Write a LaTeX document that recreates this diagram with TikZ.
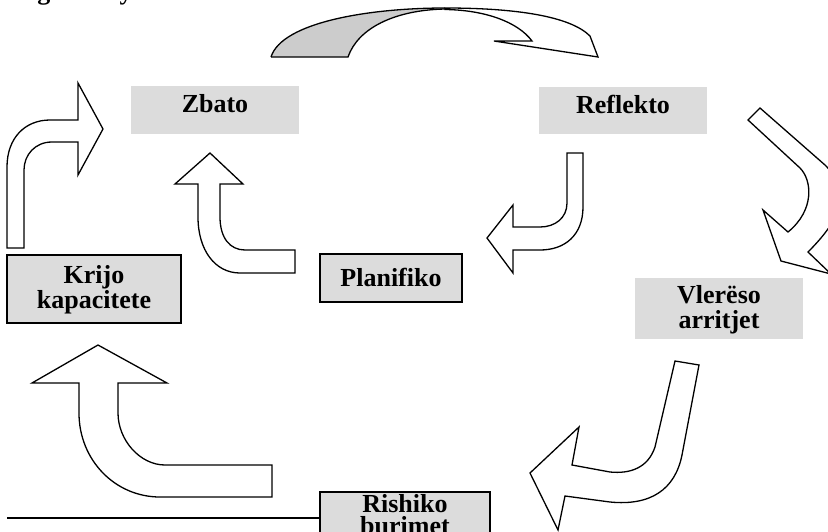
\documentclass[tikz,border=0pt]{standalone}
\usepackage{fontspec}
\setmainfont{Liberation Serif}
\begin{document}
\begin{tikzpicture}[x=1pt,y=-1pt,
  lbl/.style={font=\fontsize{26}{25}\selectfont\bfseries, align=center, inner sep=0pt},
  gplain/.style={fill=boxgray, draw=none, inner sep=0pt},
  gframed/.style={fill=boxgray, draw=black, line width=2pt, inner sep=0pt},
  blockarrow/.style={fill=white, draw=black, line width=1.3pt, line join=miter},
  ]
\definecolor{boxgray}{HTML}{DCDCDC}
\definecolor{backgray}{HTML}{CCCCCC}
\useasboundingbox (0,0) rectangle (828,531);
\clip (0,0) rectangle (828,531);

% clipped heading glyphs at the top edge
\node[lbl, anchor=base] (hg) at (44,-0.5) {g};
\node[lbl, anchor=base] (hy) at (126,-0.5) {y};

% footnote rule
\draw[line width=2pt] (7,518) -- (390,518);

% boxes
\node[gplain, minimum width=168pt, minimum height=48pt] (zbato) at (215,110) {};
\node[lbl] (zbatoT) at (215,104) {Zbato};
\node[gplain, minimum width=168pt, minimum height=47pt] (reflekto) at (623,110) {};
\node[lbl] (reflektoT) at (623,104) {Reflekto};
\node[gplain, minimum width=168pt, minimum height=61pt] (vlereso) at (719,308.5) {};
\node[lbl] (vleresoT) at (719,310) {Vlerëso\\arritjet};
\node[gframed, minimum width=174pt, minimum height=68pt] (krijo) at (94,289) {};
\node[lbl] (krijoT) at (94,290) {Krijo\\kapacitete};
\node[gframed, minimum width=142pt, minimum height=48pt] (planifiko) at (391,278) {};
\node[lbl] (planifikoT) at (391,277) {Planifiko};
\node[gframed, minimum width=170pt, minimum height=50pt, anchor=north] (rishiko) at (405,491) {};
\node[lbl, font=\fontsize{26}{22}\selectfont\bfseries] (rishikoT) at (405,515) {Rishiko\\burimet};

% top curved arrow: shaded back part
\fill[backgray] (271,57) .. controls (282,22) and (370,8) .. (445,8)
  .. controls (395,10) and (358,28) .. (348,57) -- cycle;
% white front part
\draw[blockarrow] (445,8) .. controls (515,8) and (570,16) .. (590,36)
  -- (598,57) -- (494,41) -- (532,41)
  .. controls (518,22) and (485,10) .. (445,9.5) -- cycle;
\draw[line width=1.3pt] (271,57) .. controls (282,22) and (370,8) .. (445,8);
\draw[line width=1.3pt] (271,57) -- (348,57)
  .. controls (358,28) and (395,10) .. (445,9);

% Krijo -> Zbato
\draw[blockarrow] (7,248) -- (7,167) .. controls (7,138) and (25,120) .. (50,120)
  -- (78,120) -- (78,83) -- (103,129) -- (78,175) -- (78,142) -- (52,142)
  .. controls (35,142) and (24,155) .. (24,170) -- (24,248) -- cycle;

% Planifiko -> Zbato
\draw[blockarrow] (295,273) -- (240,273) .. controls (215,273) and (198,250) .. (198,217)
  -- (198,184) -- (175,184) -- (210,153) -- (243,184) -- (220,184) -- (220,217)
  .. controls (220,238) and (230,250) .. (245,250) -- (295,250) -- cycle;

% Reflekto -> Planifiko
\draw[blockarrow] (567,153) -- (567,203) .. controls (567,218) and (555,227) .. (540,227)
  -- (513,227) -- (513,205) -- (487,238) -- (513,273) -- (513,250) -- (540,250)
  .. controls (565,250) and (583,235) .. (583,207) -- (583,153) -- cycle;

% Reflekto -> Vlereso
\draw[blockarrow] (748,120) -- (800,168) .. controls (812,180) and (815,210) .. (788,232)
  -- (763,210) -- (781,261) -- (831,274) -- (808,252)
  .. controls (845,215) and (850,190) .. (825,165) -- (760,108) -- cycle;

% Vlereso -> Rishiko
\draw[blockarrow] (675,361) -- (655,447) .. controls (648,468) and (630,474) .. (610,472)
  -- (572,465) -- (579,427) -- (530,473) -- (558,530) -- (565,496) -- (610,502)
  .. controls (650,506) and (675,490) .. (682,455) -- (699,365) -- cycle;

% Rishiko -> Krijo
\draw[blockarrow] (272,497) -- (160,497) .. controls (115,497) and (79,460) .. (79,413)
  -- (79,383) -- (32,383) -- (98,345) -- (167,383) -- (118,383) -- (118,413)
  .. controls (118,440) and (140,465) .. (165,465) -- (272,465) -- cycle;
\end{tikzpicture}
\end{document}
